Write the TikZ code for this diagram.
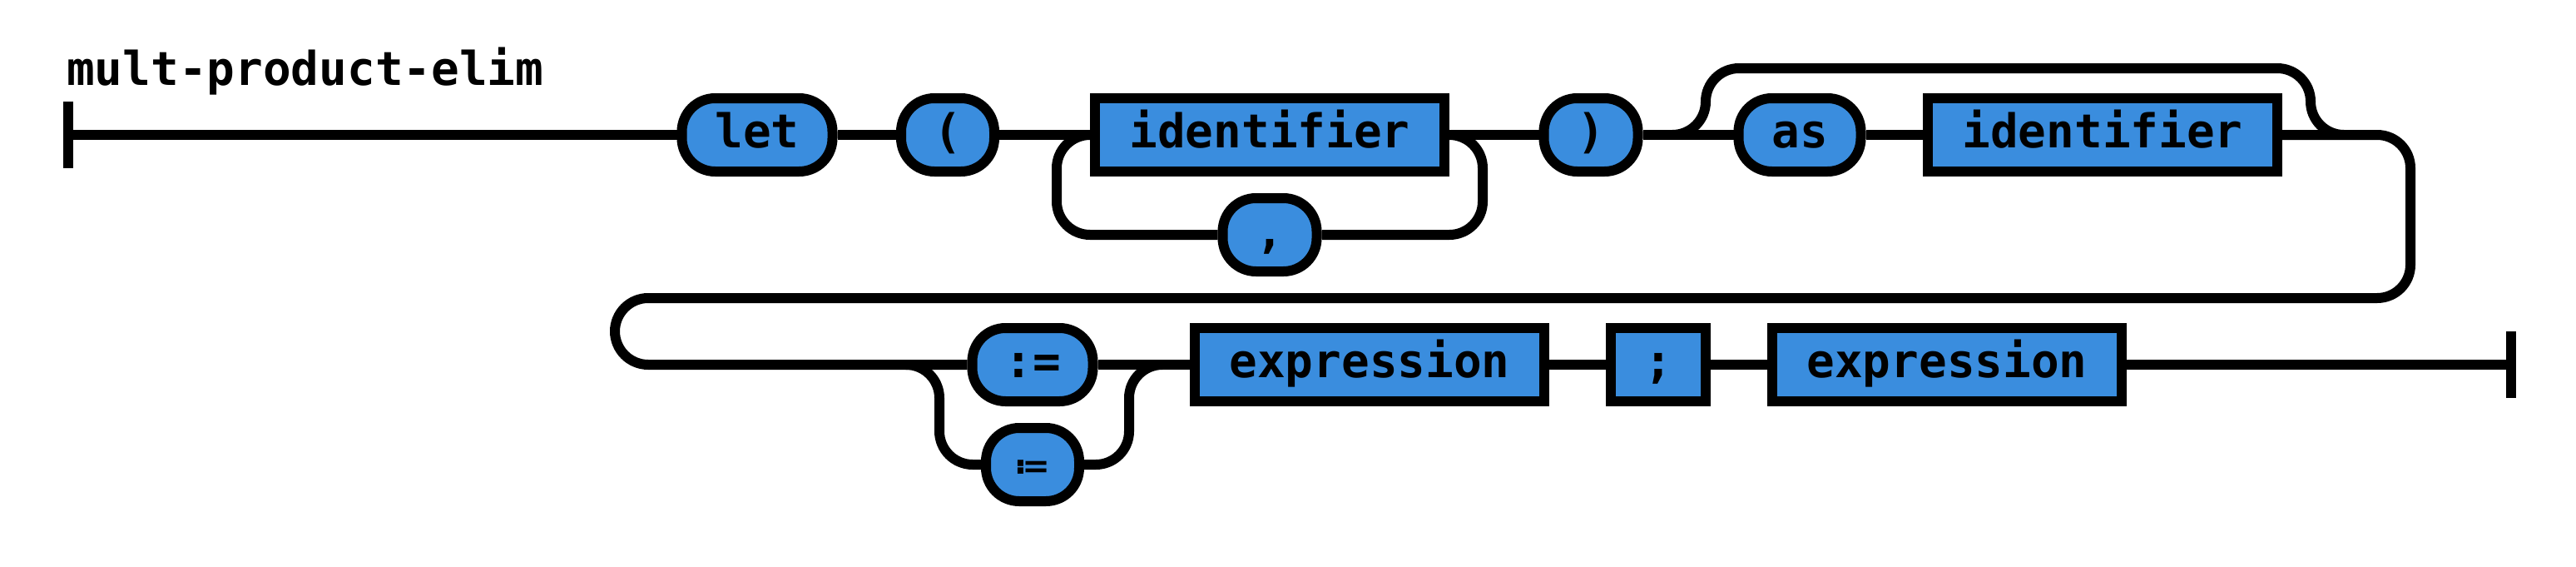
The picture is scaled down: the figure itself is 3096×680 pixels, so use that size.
\documentclass[tikz,border=0pt]{standalone}
\usepackage{fontspec}
\setmonofont{DejaVu Sans Mono}
\newfontfamily\symfont{DejaVu Sans}
\definecolor{rrblue}{RGB}{58,141,222}
\tikzset{
  rr/.style={line width=12pt, line join=miter},
  term/.style={draw, line width=12pt, fill=rrblue, rounded corners=40pt, inner sep=0pt,
    minimum height=88pt, text height=30pt, text depth=0pt,
    font=\ttfamily\bfseries\fontsize{56pt}{60pt}\selectfont},
  nonterm/.style={term, rounded corners=0pt},
  loopline/.style={rr, rounded corners=40pt},
}
\begin{document}
\begin{tikzpicture}[x=1pt,y=-1pt]
\useasboundingbox (0,0) rectangle (3096,680);
\node[anchor=base west, inner sep=0pt, font=\ttfamily\bfseries\fontsize{56pt}{60pt}\selectfont] (title) at (80,102) {mult-product-elim};
% start bar
\coordinate (s) at (82,162);
\draw[line width=12pt] (82,122) -- (82,202);
% row 1
\node[term, minimum width=181pt] (let) at (910,162) {let};
\node[term, minimum width=112pt] (lp) at (1139,162) {(};
\node[nonterm, minimum width=420pt] (id1) at (1526,162) {identifier};
\node[term, minimum width=113pt] (comma) at (1526,282) {,};
\node[term, minimum width=113pt] (rp) at (1912,162) {)};
\node[term, minimum width=147pt] (as) at (2163,162) {as};
\node[nonterm, minimum width=420pt] (id2) at (2527,162) {identifier};
% row 2
\node[term, minimum width=145pt] (ce) at (1241,438) {:=};
\node[term, minimum width=112pt, font=\symfont\bfseries\fontsize{40pt}{44pt}\selectfont] (ce2) at (1241,558) {≔};
\node[nonterm, minimum width=420pt] (ex1) at (1646,438) {expression};
\node[nonterm, minimum width=114pt] (semi) at (1993,438) {;};
\node[nonterm, minimum width=420pt] (ex2) at (2340,438) {expression};
\coordinate (e) at (3018,438);
\draw[line width=12pt] (3018,398) -- (3018,478);
% connectors row 1
\draw[rr] (s) -- (let.west);
\draw[rr] (let.east) -- (lp.west);
\draw[rr] (lp.east) -- (id1.west);
\draw[rr] (id1.east) -- (rp.east -| rp.west);
\draw[rr] (rp.east) -- (as.west);
\draw[rr] (as.east) -- (id2.west);
\draw[loopline] (id1.west) -- ++(-40,0) |- (comma.west);
\draw[loopline] (comma.east) -| ([xshift=40pt]id1.east) -- (id1.east);
\coordinate (b1) at (2010,162);
\coordinate (b2) at (2817,162);
\draw[loopline] (b1) -- (2050,162) -- (2050,82) -- (2777,82) -- (2777,162) -- (b2);
% wrap
\draw[loopline] (id2.east) -- (2897,162) -- (2897,358) -- (739,358) -- (739,438) -- (ce.west);
% choice
\coordinate (c1) at (1089,438);
\coordinate (c2) at (1397,438);
\draw[loopline] (c1) -- (1129,438) -- (1129,558) -- (ce2.west);
\draw[loopline] (ce2.east) -- (1357,558) -- (1357,438) -- (c2);
% row 2
\draw[rr] (ce.east) -- (ex1.west);
\draw[rr] (ex1.east) -- (semi.west);
\draw[rr] (semi.east) -- (ex2.west);
\draw[rr] (ex2.east) -- (e);
\end{tikzpicture}
\end{document}
